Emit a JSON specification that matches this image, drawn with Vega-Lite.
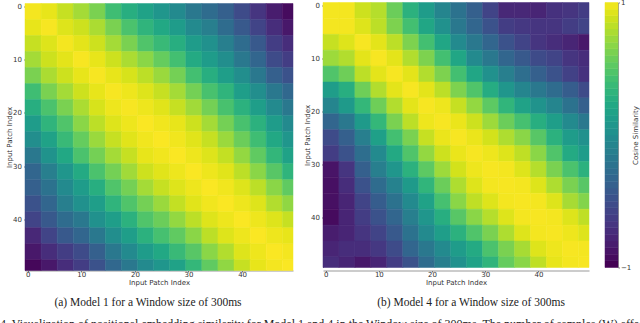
{"$schema":"https://vega.github.io/schema/vega-lite/v6.json","padding":{"left":0,"top":-1.5,"right":0,"bottom":0},"background":"white","spacing":16,"bounds":"flush","title":{"text":"4. Visualization of positional embedding similarity for Model 1 and 4 in the Window size of 300ms. The number of samples (W) affects the","orient":"bottom","anchor":"start","frame":"group","font":"Liberation Serif","fontSize":12,"fontWeight":"normal","color":"#222","offset":10,"dx":-25},"config":{"view":{"stroke":null},"axis":{"labelFont":"DejaVu Sans","titleFont":"DejaVu Sans","labelFontSize":7,"titleFontSize":7,"titleFontWeight":"normal","labelColor":"#333","titleColor":"#333","tickColor":"#333","tickSize":1.5,"tickWidth":0.6,"domainColor":"#555","domainWidth":0.6,"grid":false}},"datasets":{"m1":[
{"x":0,"y":0,"v":0.97},{"x":3,"y":0,"v":0.93},{"x":6,"y":0,"v":0.83},{"x":9,"y":0,"v":0.73},{"x":12,"y":0,"v":0.6},{"x":15,"y":0,"v":0.38},{"x":18,"y":0,"v":0.25},{"x":21,"y":0,"v":0.15},{"x":24,"y":0,"v":0.05},{"x":27,"y":0,"v":-0.05},{"x":30,"y":0,"v":-0.2},{"x":33,"y":0,"v":-0.3},{"x":36,"y":0,"v":-0.4},{"x":39,"y":0,"v":-0.55},{"x":42,"y":0,"v":-0.7},{"x":45,"y":0,"v":-0.85},{"x":48,"y":0,"v":-0.95},
{"x":0,"y":3,"v":0.93},{"x":3,"y":3,"v":0.98},{"x":6,"y":3,"v":0.9},{"x":9,"y":3,"v":0.85},{"x":12,"y":3,"v":0.75},{"x":15,"y":3,"v":0.6},{"x":18,"y":3,"v":0.43},{"x":21,"y":3,"v":0.3},{"x":24,"y":3,"v":0.2},{"x":27,"y":3,"v":0.1},{"x":30,"y":3,"v":-0.05},{"x":33,"y":3,"v":-0.15},{"x":36,"y":3,"v":-0.3},{"x":39,"y":3,"v":-0.45},{"x":42,"y":3,"v":-0.6},{"x":45,"y":3,"v":-0.75},{"x":48,"y":3,"v":-0.88},
{"x":0,"y":6,"v":0.83},{"x":3,"y":6,"v":0.9},{"x":6,"y":6,"v":0.97},{"x":9,"y":6,"v":0.92},{"x":12,"y":6,"v":0.85},{"x":15,"y":6,"v":0.73},{"x":18,"y":6,"v":0.6},{"x":21,"y":6,"v":0.45},{"x":24,"y":6,"v":0.35},{"x":27,"y":6,"v":0.25},{"x":30,"y":6,"v":0.1},{"x":33,"y":6,"v":0},{"x":36,"y":6,"v":-0.15},{"x":39,"y":6,"v":-0.3},{"x":42,"y":6,"v":-0.45},{"x":45,"y":6,"v":-0.65},{"x":48,"y":6,"v":-0.75},
{"x":0,"y":9,"v":0.73},{"x":3,"y":9,"v":0.85},{"x":6,"y":9,"v":0.92},{"x":9,"y":9,"v":0.98},{"x":12,"y":9,"v":0.93},{"x":15,"y":9,"v":0.85},{"x":18,"y":9,"v":0.75},{"x":21,"y":9,"v":0.65},{"x":24,"y":9,"v":0.53},{"x":27,"y":9,"v":0.4},{"x":30,"y":9,"v":0.22},{"x":33,"y":9,"v":0.1},{"x":36,"y":9,"v":-0.02},{"x":39,"y":9,"v":-0.2},{"x":42,"y":9,"v":-0.35},{"x":45,"y":9,"v":-0.55},{"x":48,"y":9,"v":-0.65},
{"x":0,"y":12,"v":0.6},{"x":3,"y":12,"v":0.75},{"x":6,"y":12,"v":0.85},{"x":9,"y":12,"v":0.93},{"x":12,"y":12,"v":0.98},{"x":15,"y":12,"v":0.93},{"x":18,"y":12,"v":0.88},{"x":21,"y":12,"v":0.8},{"x":24,"y":12,"v":0.7},{"x":27,"y":12,"v":0.58},{"x":30,"y":12,"v":0.4},{"x":33,"y":12,"v":0.25},{"x":36,"y":12,"v":0.12},{"x":39,"y":12,"v":-0.02},{"x":42,"y":12,"v":-0.2},{"x":45,"y":12,"v":-0.4},{"x":48,"y":12,"v":-0.5},
{"x":0,"y":15,"v":0.38},{"x":3,"y":15,"v":0.6},{"x":6,"y":15,"v":0.73},{"x":9,"y":15,"v":0.85},{"x":12,"y":15,"v":0.93},{"x":15,"y":15,"v":0.98},{"x":18,"y":15,"v":0.95},{"x":21,"y":15,"v":0.9},{"x":24,"y":15,"v":0.83},{"x":27,"y":15,"v":0.73},{"x":30,"y":15,"v":0.58},{"x":33,"y":15,"v":0.42},{"x":36,"y":15,"v":0.3},{"x":39,"y":15,"v":0.12},{"x":42,"y":15,"v":-0.02},{"x":45,"y":15,"v":-0.2},{"x":48,"y":15,"v":-0.33},
{"x":0,"y":18,"v":0.25},{"x":3,"y":18,"v":0.43},{"x":6,"y":18,"v":0.6},{"x":9,"y":18,"v":0.75},{"x":12,"y":18,"v":0.88},{"x":15,"y":18,"v":0.95},{"x":18,"y":18,"v":0.98},{"x":21,"y":18,"v":0.95},{"x":24,"y":18,"v":0.91},{"x":27,"y":18,"v":0.83},{"x":30,"y":18,"v":0.72},{"x":33,"y":18,"v":0.58},{"x":36,"y":18,"v":0.42},{"x":39,"y":18,"v":0.28},{"x":42,"y":18,"v":0.12},{"x":45,"y":18,"v":-0.05},{"x":48,"y":18,"v":-0.2},
{"x":0,"y":21,"v":0.1},{"x":3,"y":21,"v":0.3},{"x":6,"y":21,"v":0.45},{"x":9,"y":21,"v":0.65},{"x":12,"y":21,"v":0.8},{"x":15,"y":21,"v":0.9},{"x":18,"y":21,"v":0.95},{"x":21,"y":21,"v":0.99},{"x":24,"y":21,"v":0.96},{"x":27,"y":21,"v":0.93},{"x":30,"y":21,"v":0.85},{"x":33,"y":21,"v":0.73},{"x":36,"y":21,"v":0.58},{"x":39,"y":21,"v":0.42},{"x":42,"y":21,"v":0.28},{"x":45,"y":21,"v":0.1},{"x":48,"y":21,"v":-0.05},
{"x":0,"y":24,"v":-0.02},{"x":3,"y":24,"v":0.15},{"x":6,"y":24,"v":0.35},{"x":9,"y":24,"v":0.53},{"x":12,"y":24,"v":0.7},{"x":15,"y":24,"v":0.83},{"x":18,"y":24,"v":0.91},{"x":21,"y":24,"v":0.96},{"x":24,"y":24,"v":0.99},{"x":27,"y":24,"v":0.96},{"x":30,"y":24,"v":0.91},{"x":33,"y":24,"v":0.83},{"x":36,"y":24,"v":0.7},{"x":39,"y":24,"v":0.55},{"x":42,"y":24,"v":0.38},{"x":45,"y":24,"v":0.2},{"x":48,"y":24,"v":0.05},
{"x":0,"y":27,"v":-0.2},{"x":3,"y":27,"v":0.02},{"x":6,"y":27,"v":0.2},{"x":9,"y":27,"v":0.43},{"x":12,"y":27,"v":0.58},{"x":15,"y":27,"v":0.73},{"x":18,"y":27,"v":0.83},{"x":21,"y":27,"v":0.93},{"x":24,"y":27,"v":0.96},{"x":27,"y":27,"v":0.99},{"x":30,"y":27,"v":0.95},{"x":33,"y":27,"v":0.9},{"x":36,"y":27,"v":0.82},{"x":39,"y":27,"v":0.68},{"x":42,"y":27,"v":0.51},{"x":45,"y":27,"v":0.32},{"x":48,"y":27,"v":0.15},
{"x":0,"y":30,"v":-0.35},{"x":3,"y":30,"v":-0.15},{"x":6,"y":30,"v":0.05},{"x":9,"y":30,"v":0.22},{"x":12,"y":30,"v":0.43},{"x":15,"y":30,"v":0.58},{"x":18,"y":30,"v":0.72},{"x":21,"y":30,"v":0.85},{"x":24,"y":30,"v":0.91},{"x":27,"y":30,"v":0.95},{"x":30,"y":30,"v":0.99},{"x":33,"y":30,"v":0.95},{"x":36,"y":30,"v":0.91},{"x":39,"y":30,"v":0.8},{"x":42,"y":30,"v":0.65},{"x":45,"y":30,"v":0.48},{"x":48,"y":30,"v":0.3},
{"x":0,"y":33,"v":-0.4},{"x":3,"y":33,"v":-0.25},{"x":6,"y":33,"v":-0.05},{"x":9,"y":33,"v":0.1},{"x":12,"y":33,"v":0.25},{"x":15,"y":33,"v":0.45},{"x":18,"y":33,"v":0.58},{"x":21,"y":33,"v":0.73},{"x":24,"y":33,"v":0.83},{"x":27,"y":33,"v":0.9},{"x":30,"y":33,"v":0.95},{"x":33,"y":33,"v":0.99},{"x":36,"y":33,"v":0.96},{"x":39,"y":33,"v":0.9},{"x":42,"y":33,"v":0.8},{"x":45,"y":33,"v":0.65},{"x":48,"y":33,"v":0.51},
{"x":0,"y":36,"v":-0.5},{"x":3,"y":36,"v":-0.35},{"x":6,"y":36,"v":-0.15},{"x":9,"y":36,"v":0},{"x":12,"y":36,"v":0.12},{"x":15,"y":36,"v":0.3},{"x":18,"y":36,"v":0.45},{"x":21,"y":36,"v":0.58},{"x":24,"y":36,"v":0.7},{"x":27,"y":36,"v":0.82},{"x":30,"y":36,"v":0.91},{"x":33,"y":36,"v":0.96},{"x":36,"y":36,"v":0.99},{"x":39,"y":36,"v":0.95},{"x":42,"y":36,"v":0.9},{"x":45,"y":36,"v":0.77},{"x":48,"y":36,"v":0.67},
{"x":0,"y":39,"v":-0.6},{"x":3,"y":39,"v":-0.45},{"x":6,"y":39,"v":-0.3},{"x":9,"y":39,"v":-0.2},{"x":12,"y":39,"v":0},{"x":15,"y":39,"v":0.12},{"x":18,"y":39,"v":0.28},{"x":21,"y":39,"v":0.45},{"x":24,"y":39,"v":0.55},{"x":27,"y":39,"v":0.68},{"x":30,"y":39,"v":0.8},{"x":33,"y":39,"v":0.9},{"x":36,"y":39,"v":0.95},{"x":39,"y":39,"v":0.99},{"x":42,"y":39,"v":0.95},{"x":45,"y":39,"v":0.9},{"x":48,"y":39,"v":0.83},
{"x":0,"y":42,"v":-0.78},{"x":3,"y":42,"v":-0.6},{"x":6,"y":42,"v":-0.45},{"x":9,"y":42,"v":-0.35},{"x":12,"y":42,"v":-0.2},{"x":15,"y":42,"v":-0.02},{"x":18,"y":42,"v":0.12},{"x":21,"y":42,"v":0.28},{"x":24,"y":42,"v":0.41},{"x":27,"y":42,"v":0.51},{"x":30,"y":42,"v":0.65},{"x":33,"y":42,"v":0.8},{"x":36,"y":42,"v":0.9},{"x":39,"y":42,"v":0.95},{"x":42,"y":42,"v":0.99},{"x":45,"y":42,"v":0.95},{"x":48,"y":42,"v":0.93},
{"x":0,"y":45,"v":-0.88},{"x":3,"y":45,"v":-0.75},{"x":6,"y":45,"v":-0.65},{"x":9,"y":45,"v":-0.55},{"x":12,"y":45,"v":-0.4},{"x":15,"y":45,"v":-0.2},{"x":18,"y":45,"v":-0.05},{"x":21,"y":45,"v":0.1},{"x":24,"y":45,"v":0.2},{"x":27,"y":45,"v":0.35},{"x":30,"y":45,"v":0.48},{"x":33,"y":45,"v":0.65},{"x":36,"y":45,"v":0.77},{"x":39,"y":45,"v":0.9},{"x":42,"y":45,"v":0.95},{"x":45,"y":45,"v":0.99},{"x":48,"y":45,"v":0.97},
{"x":0,"y":48,"v":-0.97},{"x":3,"y":48,"v":-0.88},{"x":6,"y":48,"v":-0.75},{"x":9,"y":48,"v":-0.65},{"x":12,"y":48,"v":-0.5},{"x":15,"y":48,"v":-0.33},{"x":18,"y":48,"v":-0.2},{"x":21,"y":48,"v":-0.05},{"x":24,"y":48,"v":0.05},{"x":27,"y":48,"v":0.15},{"x":30,"y":48,"v":0.33},{"x":33,"y":48,"v":0.51},{"x":36,"y":48,"v":0.67},{"x":39,"y":48,"v":0.83},{"x":42,"y":48,"v":0.93},{"x":45,"y":48,"v":0.97},{"x":48,"y":48,"v":0.99}
],"m4":[
{"x":0,"y":0,"v":0.97},{"x":3,"y":0,"v":0.97},{"x":6,"y":0,"v":0.85},{"x":9,"y":0,"v":0.78},{"x":12,"y":0,"v":0.55},{"x":15,"y":0,"v":0.28},{"x":18,"y":0,"v":0.1},{"x":21,"y":0,"v":-0.1},{"x":24,"y":0,"v":-0.25},{"x":27,"y":0,"v":-0.4},{"x":30,"y":0,"v":-0.6},{"x":33,"y":0,"v":-0.78},{"x":36,"y":0,"v":-0.78},{"x":39,"y":0,"v":-0.8},{"x":42,"y":0,"v":-0.72},{"x":45,"y":0,"v":-0.7},{"x":48,"y":0,"v":-0.65},
{"x":0,"y":3,"v":0.97},{"x":3,"y":3,"v":0.97},{"x":6,"y":3,"v":0.9},{"x":9,"y":3,"v":0.8},{"x":12,"y":3,"v":0.61},{"x":15,"y":3,"v":0.4},{"x":18,"y":3,"v":0.18},{"x":21,"y":3,"v":0},{"x":24,"y":3,"v":-0.2},{"x":27,"y":3,"v":-0.35},{"x":30,"y":3,"v":-0.5},{"x":33,"y":3,"v":-0.65},{"x":36,"y":3,"v":-0.68},{"x":39,"y":3,"v":-0.7},{"x":42,"y":3,"v":-0.7},{"x":45,"y":3,"v":-0.65},{"x":48,"y":3,"v":-0.6},
{"x":0,"y":6,"v":0.83},{"x":3,"y":6,"v":0.9},{"x":6,"y":6,"v":0.98},{"x":9,"y":6,"v":0.92},{"x":12,"y":6,"v":0.8},{"x":15,"y":6,"v":0.61},{"x":18,"y":6,"v":0.4},{"x":21,"y":6,"v":0.18},{"x":24,"y":6,"v":-0.05},{"x":27,"y":6,"v":-0.2},{"x":30,"y":6,"v":-0.35},{"x":33,"y":6,"v":-0.5},{"x":36,"y":6,"v":-0.6},{"x":39,"y":6,"v":-0.7},{"x":42,"y":6,"v":-0.75},{"x":45,"y":6,"v":-0.8},{"x":48,"y":6,"v":-0.88},
{"x":0,"y":9,"v":0.71},{"x":3,"y":9,"v":0.77},{"x":6,"y":9,"v":0.92},{"x":9,"y":9,"v":0.98},{"x":12,"y":9,"v":0.92},{"x":15,"y":9,"v":0.77},{"x":18,"y":9,"v":0.61},{"x":21,"y":9,"v":0.4},{"x":24,"y":9,"v":0.18},{"x":27,"y":9,"v":-0.05},{"x":30,"y":9,"v":-0.2},{"x":33,"y":9,"v":-0.35},{"x":36,"y":9,"v":-0.45},{"x":39,"y":9,"v":-0.55},{"x":42,"y":9,"v":-0.6},{"x":45,"y":9,"v":-0.7},{"x":48,"y":9,"v":-0.75},
{"x":0,"y":12,"v":0.45},{"x":3,"y":12,"v":0.56},{"x":6,"y":12,"v":0.8},{"x":9,"y":12,"v":0.92},{"x":12,"y":12,"v":0.98},{"x":15,"y":12,"v":0.92},{"x":18,"y":12,"v":0.77},{"x":21,"y":12,"v":0.61},{"x":24,"y":12,"v":0.4},{"x":27,"y":12,"v":0.18},{"x":30,"y":12,"v":0},{"x":33,"y":12,"v":-0.15},{"x":36,"y":12,"v":-0.28},{"x":39,"y":12,"v":-0.4},{"x":42,"y":12,"v":-0.5},{"x":45,"y":12,"v":-0.62},{"x":48,"y":12,"v":-0.72},
{"x":0,"y":15,"v":0.11},{"x":3,"y":15,"v":0.25},{"x":6,"y":15,"v":0.56},{"x":9,"y":15,"v":0.77},{"x":12,"y":15,"v":0.92},{"x":15,"y":15,"v":0.98},{"x":18,"y":15,"v":0.92},{"x":21,"y":15,"v":0.8},{"x":24,"y":15,"v":0.61},{"x":27,"y":15,"v":0.45},{"x":30,"y":15,"v":0.23},{"x":33,"y":15,"v":0.05},{"x":36,"y":15,"v":-0.1},{"x":39,"y":15,"v":-0.2},{"x":42,"y":15,"v":-0.3},{"x":45,"y":15,"v":-0.42},{"x":48,"y":15,"v":-0.55},
{"x":0,"y":18,"v":-0.1},{"x":3,"y":18,"v":0.08},{"x":6,"y":18,"v":0.33},{"x":9,"y":18,"v":0.56},{"x":12,"y":18,"v":0.77},{"x":15,"y":18,"v":0.92},{"x":18,"y":18,"v":0.98},{"x":21,"y":18,"v":0.95},{"x":24,"y":18,"v":0.83},{"x":27,"y":18,"v":0.68},{"x":30,"y":18,"v":0.5},{"x":33,"y":18,"v":0.31},{"x":36,"y":18,"v":0.15},{"x":39,"y":18,"v":0.02},{"x":42,"y":18,"v":-0.1},{"x":45,"y":18,"v":-0.25},{"x":48,"y":18,"v":-0.4},
{"x":0,"y":21,"v":-0.35},{"x":3,"y":21,"v":-0.2},{"x":6,"y":21,"v":0.08},{"x":9,"y":21,"v":0.33},{"x":12,"y":21,"v":0.6},{"x":15,"y":21,"v":0.8},{"x":18,"y":21,"v":0.95},{"x":21,"y":21,"v":0.98},{"x":24,"y":21,"v":0.94},{"x":27,"y":21,"v":0.85},{"x":30,"y":21,"v":0.71},{"x":33,"y":21,"v":0.55},{"x":36,"y":21,"v":0.41},{"x":39,"y":21,"v":0.25},{"x":42,"y":21,"v":0.12},{"x":45,"y":21,"v":-0.05},{"x":48,"y":21,"v":-0.2},
{"x":0,"y":24,"v":-0.55},{"x":3,"y":24,"v":-0.4},{"x":6,"y":24,"v":-0.15},{"x":9,"y":24,"v":0.13},{"x":12,"y":24,"v":0.4},{"x":15,"y":24,"v":0.6},{"x":18,"y":24,"v":0.83},{"x":21,"y":24,"v":0.94},{"x":24,"y":24,"v":0.98},{"x":27,"y":24,"v":0.94},{"x":30,"y":24,"v":0.87},{"x":33,"y":24,"v":0.76},{"x":36,"y":24,"v":0.65},{"x":39,"y":24,"v":0.48},{"x":42,"y":24,"v":0.28},{"x":45,"y":24,"v":0.1},{"x":48,"y":24,"v":0},
{"x":0,"y":27,"v":-0.65},{"x":3,"y":27,"v":-0.5},{"x":6,"y":27,"v":-0.28},{"x":9,"y":27,"v":-0.05},{"x":12,"y":27,"v":0.21},{"x":15,"y":27,"v":0.45},{"x":18,"y":27,"v":0.68},{"x":21,"y":27,"v":0.85},{"x":24,"y":27,"v":0.94},{"x":27,"y":27,"v":0.98},{"x":30,"y":27,"v":0.95},{"x":33,"y":27,"v":0.9},{"x":36,"y":27,"v":0.81},{"x":39,"y":27,"v":0.65},{"x":42,"y":27,"v":0.45},{"x":45,"y":27,"v":0.22},{"x":48,"y":27,"v":0.1},
{"x":0,"y":30,"v":-0.9},{"x":3,"y":30,"v":-0.7},{"x":6,"y":30,"v":-0.4},{"x":9,"y":30,"v":-0.15},{"x":12,"y":30,"v":0.05},{"x":15,"y":30,"v":0.28},{"x":18,"y":30,"v":0.5},{"x":21,"y":30,"v":0.71},{"x":24,"y":30,"v":0.87},{"x":27,"y":30,"v":0.95},{"x":30,"y":30,"v":0.98},{"x":33,"y":30,"v":0.97},{"x":36,"y":30,"v":0.9},{"x":39,"y":30,"v":0.78},{"x":42,"y":30,"v":0.6},{"x":45,"y":30,"v":0.43},{"x":48,"y":30,"v":0.28},
{"x":0,"y":33,"v":-0.92},{"x":3,"y":33,"v":-0.75},{"x":6,"y":33,"v":-0.5},{"x":9,"y":33,"v":-0.3},{"x":12,"y":33,"v":-0.12},{"x":15,"y":33,"v":0.08},{"x":18,"y":33,"v":0.31},{"x":21,"y":33,"v":0.55},{"x":24,"y":33,"v":0.76},{"x":27,"y":33,"v":0.9},{"x":30,"y":33,"v":0.97},{"x":33,"y":33,"v":0.98},{"x":36,"y":33,"v":0.97},{"x":39,"y":33,"v":0.9},{"x":42,"y":33,"v":0.76},{"x":45,"y":33,"v":0.6},{"x":48,"y":33,"v":0.48},
{"x":0,"y":36,"v":-0.92},{"x":3,"y":36,"v":-0.8},{"x":6,"y":36,"v":-0.6},{"x":9,"y":36,"v":-0.42},{"x":12,"y":36,"v":-0.25},{"x":15,"y":36,"v":-0.05},{"x":18,"y":36,"v":0.15},{"x":21,"y":36,"v":0.41},{"x":24,"y":36,"v":0.65},{"x":27,"y":36,"v":0.81},{"x":30,"y":36,"v":0.9},{"x":33,"y":36,"v":0.97},{"x":36,"y":36,"v":0.98},{"x":39,"y":36,"v":0.97},{"x":42,"y":36,"v":0.9},{"x":45,"y":36,"v":0.74},{"x":48,"y":36,"v":0.63},
{"x":0,"y":39,"v":-0.95},{"x":3,"y":39,"v":-0.8},{"x":6,"y":39,"v":-0.65},{"x":9,"y":39,"v":-0.5},{"x":12,"y":39,"v":-0.35},{"x":15,"y":39,"v":-0.15},{"x":18,"y":39,"v":0.05},{"x":21,"y":39,"v":0.25},{"x":24,"y":39,"v":0.48},{"x":27,"y":39,"v":0.65},{"x":30,"y":39,"v":0.78},{"x":33,"y":39,"v":0.9},{"x":36,"y":39,"v":0.97},{"x":39,"y":39,"v":0.98},{"x":42,"y":39,"v":0.97},{"x":45,"y":39,"v":0.9},{"x":48,"y":39,"v":0.81},
{"x":0,"y":42,"v":-0.85},{"x":3,"y":42,"v":-0.8},{"x":6,"y":42,"v":-0.7},{"x":9,"y":42,"v":-0.6},{"x":12,"y":42,"v":-0.45},{"x":15,"y":42,"v":-0.25},{"x":18,"y":42,"v":-0.05},{"x":21,"y":42,"v":0.12},{"x":24,"y":42,"v":0.28},{"x":27,"y":42,"v":0.45},{"x":30,"y":42,"v":0.6},{"x":33,"y":42,"v":0.76},{"x":36,"y":42,"v":0.9},{"x":39,"y":42,"v":0.97},{"x":42,"y":42,"v":0.98},{"x":45,"y":42,"v":0.95},{"x":48,"y":42,"v":0.9},
{"x":0,"y":45,"v":-0.8},{"x":3,"y":45,"v":-0.75},{"x":6,"y":45,"v":-0.75},{"x":9,"y":45,"v":-0.68},{"x":12,"y":45,"v":-0.55},{"x":15,"y":45,"v":-0.35},{"x":18,"y":45,"v":-0.2},{"x":21,"y":45,"v":-0.05},{"x":24,"y":45,"v":0.1},{"x":27,"y":45,"v":0.22},{"x":30,"y":45,"v":0.43},{"x":33,"y":45,"v":0.6},{"x":36,"y":45,"v":0.74},{"x":39,"y":45,"v":0.9},{"x":42,"y":45,"v":0.95},{"x":45,"y":45,"v":0.98},{"x":48,"y":45,"v":0.97},
{"x":0,"y":48,"v":-0.75},{"x":3,"y":48,"v":-0.8},{"x":6,"y":48,"v":-0.88},{"x":9,"y":48,"v":-0.8},{"x":12,"y":48,"v":-0.65},{"x":15,"y":48,"v":-0.5},{"x":18,"y":48,"v":-0.3},{"x":21,"y":48,"v":-0.15},{"x":24,"y":48,"v":0},{"x":27,"y":48,"v":0.15},{"x":30,"y":48,"v":0.3},{"x":33,"y":48,"v":0.53},{"x":36,"y":48,"v":0.65},{"x":39,"y":48,"v":0.81},{"x":42,"y":48,"v":0.93},{"x":45,"y":48,"v":0.97},{"x":48,"y":48,"v":0.98}
],"cb":[{"c":-1,"d":-0.95},{"c":-0.95,"d":-0.9},{"c":-0.9,"d":-0.85},{"c":-0.85,"d":-0.8},{"c":-0.8,"d":-0.75},{"c":-0.75,"d":-0.7},{"c":-0.7,"d":-0.65},{"c":-0.65,"d":-0.6},{"c":-0.6,"d":-0.55},{"c":-0.55,"d":-0.5},{"c":-0.5,"d":-0.45},{"c":-0.45,"d":-0.4},{"c":-0.4,"d":-0.35},{"c":-0.35,"d":-0.3},{"c":-0.3,"d":-0.25},{"c":-0.25,"d":-0.2},{"c":-0.2,"d":-0.15},{"c":-0.15,"d":-0.1},{"c":-0.1,"d":-0.05},{"c":-0.05,"d":0},{"c":0,"d":0.05},{"c":0.05,"d":0.1},{"c":0.1,"d":0.15},{"c":0.15,"d":0.2},{"c":0.2,"d":0.25},{"c":0.25,"d":0.3},{"c":0.3,"d":0.35},{"c":0.35,"d":0.4},{"c":0.4,"d":0.45},{"c":0.45,"d":0.5},{"c":0.5,"d":0.55},{"c":0.55,"d":0.6},{"c":0.6,"d":0.65},{"c":0.65,"d":0.7},{"c":0.7,"d":0.75},{"c":0.75,"d":0.8},{"c":0.8,"d":0.85},{"c":0.85,"d":0.9},{"c":0.9,"d":0.95},{"c":0.95,"d":1}]},"hconcat":[{"width":282,"height":268,"data":{"name":"m1"},"title":{"text":"(a) Model 1 for a Window size of 300ms","orient":"bottom","font":"Liberation Serif","fontSize":11.5,"fontWeight":"normal","color":"#222","offset":12,"dx":-18},"transform":[{"calculate":"datum.x-0.5","as":"a"},{"calculate":"min(datum.x+2.5,49.5)","as":"b"},{"calculate":"datum.y-0.5","as":"c"},{"calculate":"min(datum.y+2.5,49.5)","as":"d"}],"mark":{"type":"rect","strokeWidth":0.5},"encoding":{"x":{"field":"a","type":"quantitative","scale":{"domain":[-0.5,49.5],"range":[0,268],"nice":false,"zero":false},"axis":{"values":[0,10,20,30,40],"title":"Input Patch Index","titlePadding":1,"labelPadding":-2,"labelAngle":0}},"x2":{"field":"b"},"y":{"field":"c","type":"quantitative","scale":{"domain":[-0.5,49.5],"range":[1,268],"nice":false,"zero":false},"axis":{"values":[0,10,20,30,40],"title":"Input Patch Index","titlePadding":0,"labelPadding":2}},"y2":{"field":"d"},"color":{"field":"v","type":"quantitative","scale":{"scheme":"viridis","domain":[-1,1]},"legend":null},"stroke":{"field":"v","type":"quantitative","scale":{"scheme":"viridis","domain":[-1,1]},"legend":null}}},{"width":266,"height":268,"data":{"name":"m4"},"title":{"text":"(b) Model 4 for a Window size of 300ms","orient":"bottom","font":"Liberation Serif","fontSize":11.5,"fontWeight":"normal","color":"#222","offset":12,"dx":15},"transform":[{"calculate":"datum.x-0.5","as":"a"},{"calculate":"min(datum.x+2.5,49.5)","as":"b"},{"calculate":"datum.y-0.5","as":"c"},{"calculate":"min(datum.y+2.5,49.5)","as":"d"}],"mark":{"type":"rect","strokeWidth":0.5},"encoding":{"x":{"field":"a","type":"quantitative","scale":{"domain":[-0.5,49.5],"range":[0,266],"nice":false,"zero":false},"axis":{"values":[0,10,20,30,40],"title":"Input Patch Index","titlePadding":1,"labelPadding":-2,"labelAngle":0}},"x2":{"field":"b"},"y":{"field":"c","type":"quantitative","scale":{"domain":[-0.5,49.5],"range":[0,265],"nice":false,"zero":false},"axis":{"values":[0,10,20,30,40],"title":"Input Patch Index","titlePadding":0,"labelPadding":2}},"y2":{"field":"d"},"color":{"field":"v","type":"quantitative","scale":{"scheme":"viridis","domain":[-1,1]},"legend":null},"stroke":{"field":"v","type":"quantitative","scale":{"scheme":"viridis","domain":[-1,1]},"legend":null}}},{"width":13,"height":268,"data":{"name":"cb"},"mark":{"type":"rect","strokeWidth":0.5},"encoding":{"x":{"datum":0,"type":"quantitative","scale":{"domain":[0,1],"range":[0,13]},"axis":null},"x2":{"datum":1},"y":{"field":"c","type":"quantitative","scale":{"domain":[-1,1],"range":[265,0],"nice":false,"zero":false},"axis":{"orient":"right","values":[-1,1],"title":"Cosine Similarity","titleAngle":270,"titlePadding":8,"labelPadding":1,"format":"d"}},"y2":{"field":"d"},"color":{"field":"c","type":"quantitative","scale":{"scheme":"viridis","domain":[-1,1]},"legend":null},"stroke":{"field":"c","type":"quantitative","scale":{"scheme":"viridis","domain":[-1,1]},"legend":null}}}]}
